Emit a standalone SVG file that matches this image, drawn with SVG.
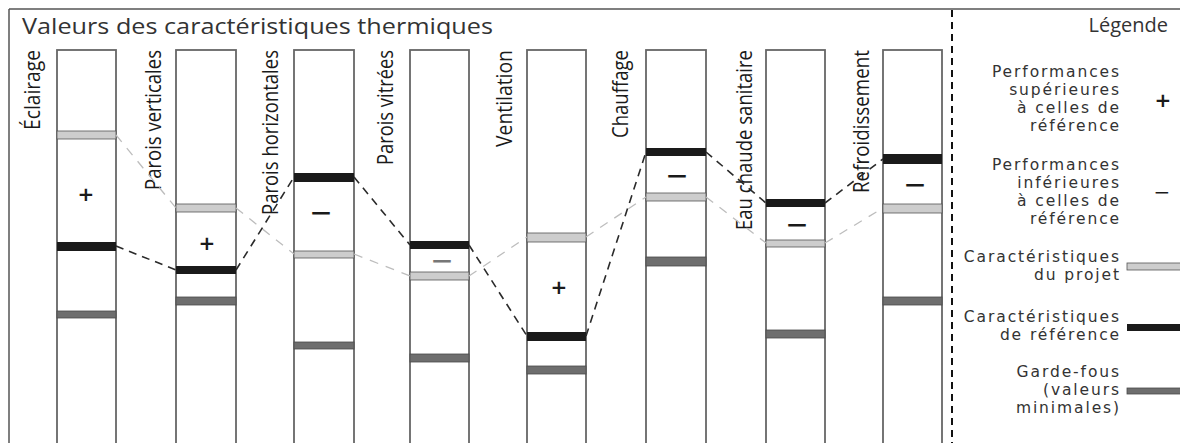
<svg xmlns="http://www.w3.org/2000/svg" width="1180" height="443" viewBox="0 0 1180 443">
<style>
.col{fill:#fff;stroke:#666;stroke-width:1.8}
.lt{fill:#cdcdcd;stroke:#555;stroke-width:0.8}
.bk{fill:#1a1a1a}
.dk{fill:#6e6e6e;stroke:#4a4a4a;stroke-width:0.8}
.lab{font-family:"Open Sans","DejaVu Sans",sans-serif;font-size:22px;fill:#1a1a1a}
.sg{font-family:"DejaVu Sans","Open Sans",sans-serif;fill:#1a1a1a;text-anchor:middle}
.lg{font-family:"DejaVu Sans","Open Sans",sans-serif;font-size:15.5px;fill:#333;text-anchor:end;letter-spacing:1.9px}
</style>
<rect width="1180" height="443" fill="#fff"/>
<g id="frame">
<line x1="9" y1="9" x2="1180" y2="9" stroke="#555" stroke-width="1.5"/>
<line x1="9" y1="9" x2="9" y2="443" stroke="#555" stroke-width="1.5"/>
<line x1="952" y1="10" x2="952" y2="443" stroke="#111" stroke-width="2" stroke-dasharray="7 5"/>
<text x="22" y="34" font-family="Open Sans, DejaVu Sans, sans-serif" font-size="21" fill="#333" textLength="471" lengthAdjust="spacingAndGlyphs">Valeurs des caractéristiques thermiques</text>
</g>
<g id="col-eclairage">
<rect class="col" x="57" y="50" width="59" height="400"/>
<rect class="lt" x="57" y="131" width="59" height="8"/>
<rect class="bk" x="57" y="242" width="59" height="9"/>
<rect class="dk" x="57" y="311" width="59" height="7"/>
<text class="sg" x="86" y="201" font-size="20" font-weight="bold">+</text>
<text class="lab" transform="translate(40,50) rotate(-90)" text-anchor="end" textLength="80" lengthAdjust="spacingAndGlyphs">Éclairage</text>
</g>
<g id="col-parois-verticales">
<rect class="col" x="176" y="50" width="60" height="400"/>
<rect class="lt" x="176" y="204" width="60" height="8"/>
<rect class="bk" x="176" y="266" width="60" height="8"/>
<rect class="dk" x="176" y="297" width="60" height="8"/>
<text class="sg" x="207" y="250" font-size="20" font-weight="bold">+</text>
<text class="lab" transform="translate(161,50) rotate(-90)" text-anchor="end" textLength="140" lengthAdjust="spacingAndGlyphs">Parois verticales</text>
</g>
<g id="col-parois-horizontales">
<rect class="col" x="294" y="50" width="60" height="400"/>
<rect class="bk" x="294" y="173" width="60" height="9"/>
<rect class="lt" x="294" y="251" width="60" height="7"/>
<rect class="dk" x="294" y="342" width="60" height="7"/>
<text class="sg" x="321" y="222" font-size="28">−</text>
<text class="lab" transform="translate(278,50) rotate(-90)" text-anchor="end" textLength="165" lengthAdjust="spacingAndGlyphs">Parois horizontales</text>
</g>
<g id="col-parois-vitrees">
<rect class="col" x="410" y="50" width="59" height="400"/>
<rect class="bk" x="410" y="241" width="59" height="8"/>
<rect class="lt" x="410" y="272" width="59" height="8"/>
<rect class="dk" x="410" y="354" width="59" height="8"/>
<text class="sg" x="442" y="270" font-size="28" style="fill:#777">−</text>
<text class="lab" transform="translate(393,50) rotate(-90)" text-anchor="end" textLength="115" lengthAdjust="spacingAndGlyphs">Parois vitrées</text>
</g>
<g id="col-ventilation">
<rect class="col" x="527" y="50" width="59" height="400"/>
<rect class="lt" x="527" y="233" width="59" height="9"/>
<rect class="bk" x="527" y="332" width="59" height="9"/>
<rect class="dk" x="527" y="366" width="59" height="8"/>
<text class="sg" x="559" y="294" font-size="20" font-weight="bold">+</text>
<text class="lab" transform="translate(512,50) rotate(-90)" text-anchor="end" textLength="97" lengthAdjust="spacingAndGlyphs">Ventilation</text>
</g>
<g id="col-chauffage">
<rect class="col" x="646" y="50" width="60" height="400"/>
<rect class="bk" x="646" y="148" width="60" height="8"/>
<rect class="lt" x="646" y="193" width="60" height="8"/>
<rect class="dk" x="646" y="257" width="60" height="9"/>
<text class="sg" x="677" y="185" font-size="28">−</text>
<text class="lab" transform="translate(628,50) rotate(-90)" text-anchor="end" textLength="88" lengthAdjust="spacingAndGlyphs">Chauffage</text>
</g>
<g id="col-eau-chaude">
<rect class="col" x="766" y="50" width="59" height="400"/>
<rect class="bk" x="766" y="199" width="59" height="8"/>
<rect class="lt" x="766" y="240" width="59" height="7"/>
<rect class="dk" x="766" y="330" width="59" height="8"/>
<text class="sg" x="797" y="234" font-size="28">−</text>
<text class="lab" transform="translate(752,50) rotate(-90)" text-anchor="end" textLength="180" lengthAdjust="spacingAndGlyphs">Eau chaude sanitaire</text>
</g>
<g id="col-refroidissement">
<rect class="col" x="883" y="50" width="59" height="400"/>
<rect class="bk" x="883" y="154" width="59" height="10"/>
<rect class="lt" x="883" y="204" width="59" height="9"/>
<rect class="dk" x="883" y="297" width="59" height="8"/>
<text class="sg" x="915" y="194" font-size="28">−</text>
<text class="lab" transform="translate(869,50) rotate(-90)" text-anchor="end" textLength="143" lengthAdjust="spacingAndGlyphs">Refroidissement</text>
</g>
<g id="connectors" fill="none">
<path d="M116,135 L176,208 M236,208 L294,254 M354,254 L410,276 M469,276 L527,237 M586,237 L646,197 M706,197 L766,243 M825,243 L883,208" stroke="#bdbdbd" stroke-width="1.3" stroke-dasharray="9 8"/>
<path d="M116,246 L176,270 M236,270 L294,177 M354,177 L410,245 M469,245 L527,336 M586,336 L646,152 M706,152 L766,203 M825,203 L883,159" stroke="#2a2a2a" stroke-width="1.6" stroke-dasharray="8 6"/>
</g>
<g id="legend">
<text x="1168" y="32" font-family="Open Sans, DejaVu Sans, sans-serif" font-size="20" fill="#333" text-anchor="end">Légende</text>
<g id="legend-plus">
<text class="lg" x="1121" y="77">Performances</text>
<text class="lg" x="1121" y="95">supérieures</text>
<text class="lg" x="1121" y="113">à celles de</text>
<text class="lg" x="1121" y="131">référence</text>
<text class="sg" x="1163" y="107" font-size="20" font-weight="bold">+</text>
</g>
<g id="legend-minus">
<text class="lg" x="1121" y="170">Performances</text>
<text class="lg" x="1121" y="188">inférieures</text>
<text class="lg" x="1121" y="206">à celles de</text>
<text class="lg" x="1121" y="224">référence</text>
<text class="sg" x="1162" y="199" font-size="20">−</text>
</g>
<g id="legend-projet">
<text class="lg" x="1121" y="262">Caractéristiques</text>
<text class="lg" x="1121" y="280">du projet</text>
<rect class="lt" x="1127" y="263" width="60" height="7"/>
</g>
<g id="legend-reference">
<text class="lg" x="1121" y="322">Caractéristiques</text>
<text class="lg" x="1121" y="340">de référence</text>
<rect class="bk" x="1127" y="324" width="60" height="7"/>
</g>
<g id="legend-garde-fous">
<text class="lg" x="1121" y="377">Garde-fous</text>
<text class="lg" x="1121" y="395">(valeurs</text>
<text class="lg" x="1121" y="413">minimales)</text>
<rect class="dk" x="1127" y="388" width="60" height="6"/>
</g>
</g>
</svg>
